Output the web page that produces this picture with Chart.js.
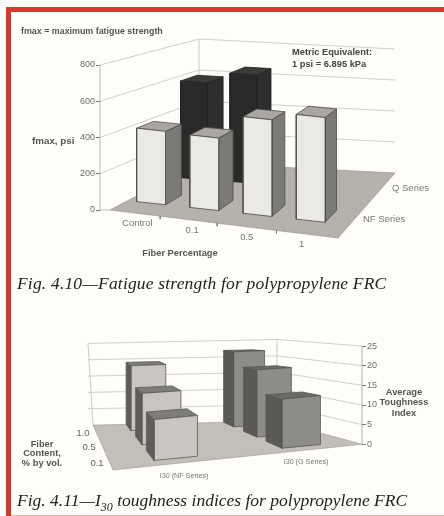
<!DOCTYPE html>
<html>
<head>
<meta charset="utf-8">
<script src="https://cdn.jsdelivr.net/npm/chart.js@4"></script>
<style>
html, body { margin: 0; padding: 0; background: #fefdfa; overflow: hidden; }
#page { position: relative; width: 444px; height: 516px; overflow: hidden; }
#redTop { position: absolute; left: 6px; top: 7px; right: 0; height: 5px; background: #d9372c; }
#redLeft { position: absolute; left: 6px; top: 7px; bottom: 0; width: 5px; background: #d9372c; }
#redBottom { position: absolute; left: 11px; right: 0; bottom: 0; height: 1px; background: #f3b49a; }
canvas { position: absolute; left: 0; filter: blur(0.7px); }
#chart1 { top: 0; }
#chart2 { top: 320px; }
.caption { position: absolute; left: 17px; font: italic 17.5px "Liberation Serif", serif; color: #222; white-space: nowrap; filter: blur(0.4px); }
.caption sub { font-size: 12px; line-height: 0; }
</style>
</head>
<body>
<div id="page">
  <div id="redTop"></div>
  <div id="redLeft"></div>
  <div id="redBottom"></div>
  <canvas id="chart1" width="444" height="290"></canvas>
  <canvas id="chart2" width="444" height="170"></canvas>
  <div class="caption" style="top:273px;letter-spacing:0.18px">Fig. 4.10—Fatigue strength for polypropylene FRC</div>
  <div class="caption" style="top:490px">Fig. 4.11—I<sub>30</sub> toughness indices for polypropylene FRC</div>
</div>
<script>
// fig 4.10
var fiberPct = ["Control", "0.1", "0.5", "1"];
var nfFatigue = [410, 405, 540, 585];
var qFatigue = [590, 660, null, null];
var fatigueTicks = [0, 200, 400, 600, 800];

// fig 4.11
var fiberContent = ["0.1", "0.5", "1.0"];
var nfToughness = [10, 13.8, 19];
var gToughness = [12, 18, 22];
var toughnessTicks = [0, 5, 10, 15, 20, 25];

// makes a mapping from floor position (u across, v into the page) and value to chart data
function makeView(floor, hFront, hBack, zeroPx, unitPx) {
    function pixel(u, v, val) {
        var a = floor.fl, b = floor.fr, c = floor.br, d = floor.bl;
        var x = a[0] + (b[0] - a[0]) * u + (d[0] - a[0]) * v + (a[0] - b[0] + c[0] - d[0]) * u * v;
        var y = a[1] + (b[1] - a[1]) * u + (d[1] - a[1]) * v + (a[1] - b[1] + c[1] - d[1]) * u * v;
        y -= (val || 0) * (hFront + (hBack - hFront) * v);
        return { px: x, py: y };
    }
    function pt(u, v, val) {
        var p = pixel(u, v, val);
        return { x: p.px, y: (zeroPx - p.py) / unitPx };
    }
    return { pt: pt, pixel: pixel };
}

function shape(points, fillColor, lineColor, lineWidth) {
    return {
        data: points,
        fill: "shape",
        backgroundColor: fillColor,
        borderColor: lineColor,
        borderWidth: lineWidth,
        pointRadius: 0,
        tension: 0,
        clip: false
    };
}

function line(points, color, width) {
    return {
        data: points,
        fill: false,
        borderColor: color,
        borderWidth: width || 0.8,
        pointRadius: 0,
        tension: 0,
        clip: false
    };
}

// side face goes on the right or left of the box depending on the view
function box(view, u0, u1, v0, dv, val, col, sideRight) {
    var p = view.pt, v1 = v0 + dv;
    var su = sideRight ? u1 : u0;
    return [
        shape([p(su, v0, 0), p(su, v1, 0), p(su, v1, val), p(su, v0, val), p(su, v0, 0)], col.side, col.edge, 0.8),
        shape([p(u0, v0, val), p(u1, v0, val), p(u1, v1, val), p(u0, v1, val), p(u0, v0, val)], col.top, col.edge, 0.8),
        shape([p(u0, v0, 0), p(u1, v0, 0), p(u1, v0, val), p(u0, v0, val), p(u0, v0, 0)], col.front, col.edge, 0.8)
    ];
}

function textPlugin(draw) {
    return {
        id: "texts",
        afterDraw: function (chart) {
            var ctx = chart.ctx;
            ctx.save();
            ctx.textBaseline = "middle";
            draw(function (s, x, y, font, color, align) {
                ctx.font = font;
                ctx.fillStyle = color;
                ctx.textAlign = align || "left";
                ctx.fillText(s, x, y);
            });
            ctx.restore();
        }
    };
}

function makeChart(id, sets, xMin, xMax, yMin, yMax, step, axisPos, axisWidth, pad, visibleTicks, plugin) {
    return new Chart(document.getElementById(id), {
        type: "line",
        data: { datasets: sets.slice().reverse() },
        options: {
            responsive: false,
            animation: false,
            devicePixelRatio: 1,
            layout: { padding: pad },
            plugins: { legend: { display: false }, tooltip: { enabled: false } },
            scales: {
                x: { type: "linear", display: false, min: xMin, max: xMax },
                y: {
                    type: "linear",
                    position: axisPos,
                    min: yMin,
                    max: yMax,
                    afterFit: function (s) { s.width = axisWidth; },
                    border: { display: false },
                    grid: {
                        drawOnChartArea: false,
                        tickLength: 4,
                        tickColor: function (c) { return visibleTicks.indexOf(c.tick.value) >= 0 ? "#777" : "rgba(0,0,0,0)"; }
                    },
                    ticks: {
                        stepSize: step,
                        autoSkip: false,
                        padding: 1,
                        color: "#6e6e6e",
                        font: { family: "Liberation Sans", size: 9 },
                        callback: function (v) { return visibleTicks.indexOf(v) >= 0 ? v : ""; }
                    }
                }
            }
        },
        plugins: [plugin]
    });
}

// ---- chart 1 ----
var floor1 = { fl: [110, 210], fr: [338, 238], br: [395, 173], bl: [199, 163] };
var view1 = makeView(floor1, 0.185, 0.155, 210, 0.18125);
var sets1 = [];
var yUnit1 = function (py) { return (210 - py) / 0.18125; };

sets1.push(shape([view1.pt(0, 0), view1.pt(1, 0), view1.pt(1, 1), view1.pt(0, 1), view1.pt(0, 0)], "#b5b2ac", "#8f8d88", 0.6));
sets1.push(line([{ x: 100, y: 0 }, { x: 100, y: 800 }], "#aaa"));
sets1.push(line([view1.pt(0, 1, 0), view1.pt(0, 1, 800)], "#bbb"));
fatigueTicks.forEach(function (t) {
    if (t > 0) sets1.push(line([{ x: 100, y: t }, view1.pt(0, 1, t), view1.pt(1, 1, t)], "#c4c4c4"));
});
sets1.push(line([{ x: 100, y: 0 }, view1.pt(0, 0, 0)], "#aaa"));

var darkCol = { front: "#2b2a2a", side: "#2f2e2e", top: "#3c3b3a", edge: "#222" };
var lightCol = { front: "#ebe9e5", side: "#7b7a77", top: "#aaa7a2", edge: "#4a4a48" };
qFatigue.forEach(function (val, i) {
    if (val != null) sets1 = sets1.concat(box(view1, 0.04 + 0.24 * i, 0.17 + 0.24 * i, 0.7, 0.19, val, darkCol, true));
});
[0.22, 0.47, 0.73].forEach(function (u) {
    var p = view1.pixel(u, 0);
    sets1.push(line([view1.pt(u, 0), { x: p.px, y: yUnit1(p.py + 3) }], "#777"));
});
nfFatigue.forEach(function (val, i) {
    sets1 = sets1.concat(box(view1, 0.04 + 0.24 * i, 0.17 + 0.24 * i, 0.2, 0.19, val, lightCol, true));
});

var boldGray = "bold 9.3px 'Liberation Sans'";
var plain = "9.5px 'Liberation Sans'";
makeChart("chart1", sets1, 100, 444, -400, 1000, 200, "left", 100,
    { top: 28.75, bottom: 7.5, left: 0, right: 0 }, fatigueTicks,
    textPlugin(function (t) {
        t("fmax = maximum fatigue strength", 21, 31.5, "bold 8.9px 'Liberation Sans'", "#555");
        t("Metric Equivalent:", 292, 52.5, boldGray, "#444");
        t("1 psi = 6.895 kPa", 292, 64, boldGray, "#444");
        t("fmax, psi", 32, 141, "bold 9.8px 'Liberation Sans'", "#555");
        fiberPct.forEach(function (c, i) {
            var p = view1.pixel(0.12 + 0.24 * i, 0);
            t(c, p.px, p.py + 10.5, plain, "#777", "center");
        });
        t("Fiber Percentage", 180, 253, boldGray, "#555", "center");
        t("Q Series", 392, 188, plain, "#777");
        t("NF Series", 363, 219, plain, "#777");
    }));

// ---- chart 2 ----
var floor2 = { fl: [113, 473], fr: [362, 446.7], br: [277, 423], bl: [93, 427] };
var zero2 = 446.7 - 320;
var floor2c = {};
["fl", "fr", "br", "bl"].forEach(function (k) { floor2c[k] = [floor2[k][0], floor2[k][1] - 320]; });
var view2 = makeView(floor2c, 4.3, 3.35, zero2, 4.03);
var sets2 = [];

sets2.push(shape([view2.pt(0, 0), view2.pt(1, 0), view2.pt(1, 1), view2.pt(0, 1), view2.pt(0, 0)], "#c2bfb8", "#999791", 0.6));
sets2.push(line([view2.pt(0, 1, 0), { x: 88, y: view2.pt(0, 1, 25).y }], "#bbb"));
sets2.push(line([view2.pt(1, 1, 0), view2.pt(1, 1, 25)], "#bbb"));
sets2.push(line([{ x: 362, y: 0 }, { x: 362, y: 25 }], "#999"));
toughnessTicks.forEach(function (t) {
    if (t > 0) sets2.push(line([{ x: 88, y: view2.pt(0, 1, t).y }, view2.pt(1, 1, t), { x: 362, y: t }], "#c4c4c4"));
});

var rowV = [0.12, 0.5, 0.85];
var rowD = [0.24, 0.2, 0.15];
var nfCol = { front: "#c9c6c1", side: "#5e5d5a", top: "#7f7d79", edge: "#5a5a58" };
var gCol = { front: "#8e8c88", side: "#5a5957", top: "#6b6a67", edge: "#555" };
// back rows first so the front bars cover them
[2, 1, 0].forEach(function (r) {
    sets2 = sets2.concat(box(view2, 0.18, 0.36, rowV[r], rowD[r], nfToughness[r], nfCol, false));
});
[2, 1, 0].forEach(function (r) {
    sets2 = sets2.concat(box(view2, 0.71, 0.87, rowV[r], rowD[r], gToughness[r], gCol, false));
});

makeChart("chart2", sets2, 0, 362, -10, 30, 5, "right", 82,
    { top: 5.8, bottom: 3, left: 0, right: 0 }, toughnessTicks,
    textPlugin(function (t) {
        var off = -320;
        t("Fiber", 42, 444 + off, boldGray, "#555", "center");
        t("Content,", 42, 453 + off, boldGray, "#555", "center");
        t("% by vol.", 42, 463 + off, boldGray, "#555", "center");
        t(fiberContent[2], 83, 433 + off, plain, "#666", "center");
        t(fiberContent[1], 89, 447 + off, plain, "#666", "center");
        t(fiberContent[0], 97, 463 + off, plain, "#666", "center");
        t("I30 (NF Series)", 184, 476 + off, "7.2px 'Liberation Sans'", "#777", "center");
        t("I30 (G Series)", 306, 462 + off, "7.2px 'Liberation Sans'", "#777", "center");
        t("Average", 404, 392 + off, boldGray, "#555", "center");
        t("Toughness", 404, 402 + off, boldGray, "#555", "center");
        t("Index", 404, 413 + off, boldGray, "#555", "center");
    }));
</script>
</body>
</html>
